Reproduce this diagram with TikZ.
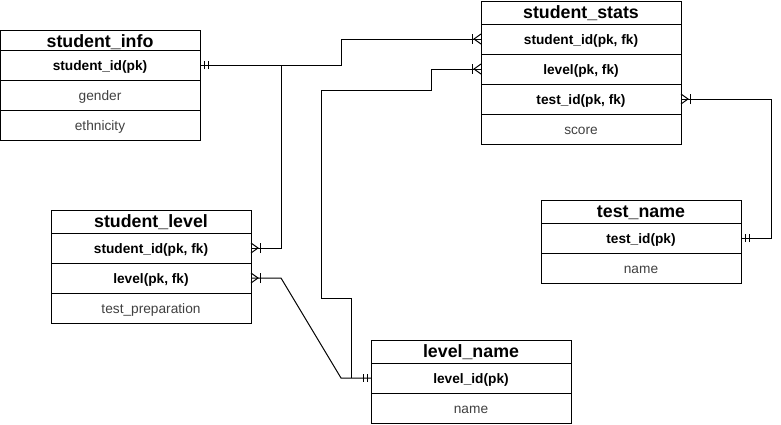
\documentclass[tikz,border=0pt]{standalone}
\usepackage{fontspec}
\setmainfont{Liberation Sans}
\begin{document}
\begin{tikzpicture}[x=1pt,y=-1pt, line width=1pt,
 cell/.style={draw, anchor=north west, minimum width=200pt, inner sep=0pt, outer sep=0pt, text depth=0pt},
 ttl/.style={cell, minimum height=23pt, text height=12pt, font=\bfseries\fontsize{17.8}{20}\selectfont},
 keyrow/.style={cell, minimum height=30pt, text height=11pt, font=\bfseries\fontsize{13.7}{15}\selectfont},
 attrrow/.style={cell, minimum height=30pt, text height=11pt, font=\fontsize{13.7}{15}\selectfont, text=black!75},
 link/.style={draw, line width=1pt},
 cfmany/.pic={\draw (-9,-5)--(-9,5); \draw (0,-5)--(-7,0)--(0,5);},
 cfone/.pic={\draw (-4,-4)--(-4,4); \draw (-8,-4)--(-8,4);}
]
\useasboundingbox (0,0) rectangle (781,424);
% student_info
\node[ttl, minimum height=20pt, text height=15pt] (si) at (0,30) {student\_info};
\node[keyrow] (si1) at (0,50) {student\_id(pk)};
\node[attrrow] (si2) at (0,80) {gender};
\node[attrrow] (si3) at (0,110) {ethnicity};
% student_stats
\node[ttl] (ss) at (481,1) {student\_stats};
\node[keyrow] (ss1) at (481,24) {student\_id(pk, fk)};
\node[keyrow] (ss2) at (481,54) {level(pk, fk)};
\node[keyrow] (ss3) at (481,84) {test\_id(pk, fk)};
\node[attrrow] (ss4) at (481,114) {score};
% student_level
\node[ttl] (sl) at (51,210) {student\_level};
\node[keyrow] (sl1) at (51,233) {student\_id(pk, fk)};
\node[keyrow] (sl2) at (51,263) {level(pk, fk)};
\node[attrrow] (sl3) at (51,293) {test\_preparation};
% test_name
\node[ttl] (tn) at (541,200) {test\_name};
\node[keyrow] (tn1) at (541,223) {test\_id(pk)};
\node[attrrow] (tn2) at (541,253) {name};
% level_name
\node[ttl] (ln) at (371,340) {level\_name};
\node[keyrow] (ln1) at (371,363) {level\_id(pk)};
\node[attrrow] (ln2) at (371,393) {name};
% helper coordinates
\coordinate (ja) at (341,0);
\coordinate (jb) at (281,0);
\coordinate (kb) at (351,0);
\coordinate (kc) at (321,298);
\coordinate (kd) at (431,90);
\coordinate (tc) at (771,0);
% connectors
\draw[link] (si1.east) -- (ja |- si1.east) |- (ss1.west);
\draw[link] (jb |- si1.east) |- (sl1.east);
\draw[link] (ln1.west) -- (ja |- ln1.west) -- (jb |- sl2.east) -- (sl2.east);
\draw[link] (kb |- ln1.west) |- (kc) |- (kd) |- (ss2.west);
\draw[link] (tn1.east) -- (tc |- tn1.east) |- (ss3.east);
% end markers
\pic[rotate=180] at (si1.east) {cfone};
\pic at (ss1.west) {cfmany};
\pic at (ss2.west) {cfmany};
\pic[rotate=180] at (ss3.east) {cfmany};
\pic[rotate=180] at (sl1.east) {cfmany};
\pic[rotate=180] at (sl2.east) {cfmany};
\pic at (ln1.west) {cfone};
\pic[rotate=180] at (tn1.east) {cfone};
\end{tikzpicture}
\end{document}
